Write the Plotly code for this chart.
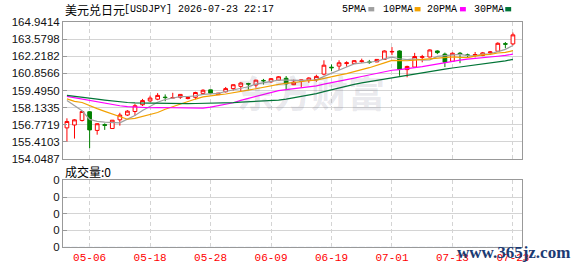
import plotly.graph_objects as go
import pandas as pd

# ---------------- data ----------------
dates = ["05-01", "05-04", "05-05", "05-06", "05-07", "05-08",
         "05-11", "05-12", "05-13", "05-14", "05-15",
         "05-18", "05-19", "05-20", "05-21", "05-22",
         "05-25", "05-26", "05-27", "05-28", "05-29",
         "06-01", "06-02", "06-03", "06-04", "06-05",
         "06-08", "06-09", "06-10", "06-11", "06-12",
         "06-15", "06-16", "06-17", "06-18", "06-19",
         "06-22", "06-23", "06-24", "06-25", "06-26",
         "06-29", "06-30", "07-01", "07-02", "07-03",
         "07-06", "07-07", "07-08", "07-09", "07-10",
         "07-13", "07-14", "07-15", "07-16", "07-17",
         "07-20", "07-21", "07-22", "07-23"]

open_ = [156.53, 156.76, 157.12, 157.81, 156.33, 156.79, 156.48, 157.17, 157.55, 157.83,
         158.37, 158.67, 158.81, 158.97, 158.90, 158.96, 158.86, 158.96, 159.27, 159.55,
         159.17, 159.40, 159.65, 159.83, 160.05, 159.93, 160.30, 160.19, 160.32, 160.47,
         159.96, 160.24, 160.29, 160.36, 160.80, 161.35, 161.44, 161.64, 161.64, 161.80,
         161.77, 161.77, 161.97, 162.56, 162.64, 161.16, 161.36, 162.13, 162.16, 162.64,
         162.39, 161.82, 162.46, 162.33, 162.28, 162.28, 162.49, 162.62, 163.22, 163.20]
high = [157.29, 157.22, 157.88, 157.85, 156.90, 156.89, 157.16, 157.73, 157.94, 158.44,
        158.83, 159.09, 159.29, 159.19, 159.32, 159.21, 158.98, 159.40, 159.60, 159.57,
        159.31, 159.78, 159.98, 160.16, 160.11, 160.36, 160.42, 160.49, 160.65, 160.65,
        160.36, 160.36, 160.55, 160.75, 161.90, 161.57, 161.90, 161.82, 161.90, 162.03,
        161.93, 161.99, 162.69, 162.95, 162.69, 161.47, 162.49, 162.33, 162.77, 162.69,
        162.51, 162.52, 162.56, 162.43, 162.56, 162.56, 162.64, 163.33, 163.35, 164.10]
low = [155.43, 155.68, 157.04, 154.92, 155.99, 156.37, 156.45, 156.71, 157.48, 157.48,
       158.27, 158.60, 158.73, 158.65, 158.90, 158.83, 158.80, 158.80, 159.21, 159.24,
       159.14, 159.34, 159.50, 159.47, 159.57, 159.73, 159.98, 160.11, 160.29, 159.57,
       159.93, 159.73, 160.11, 160.19, 160.70, 161.05, 161.13, 161.39, 161.62, 161.70,
       161.62, 161.75, 161.95, 162.31, 160.67, 160.55, 161.31, 161.74, 162.13, 162.39,
       161.36, 161.79, 161.67, 162.13, 162.13, 162.23, 162.36, 162.59, 162.85, 163.08]
close = [157.04, 157.17, 157.83, 156.37, 156.86, 156.73, 157.14, 157.55, 157.86, 158.29,
         158.70, 158.90, 159.11, 158.94, 158.94, 159.19, 158.94, 159.34, 159.52, 159.29,
         159.29, 159.65, 159.96, 160.09, 160.01, 160.32, 160.27, 160.44, 160.59, 160.03,
         160.16, 160.34, 160.49, 160.62, 161.51, 161.31, 161.70, 161.70, 161.87, 161.85,
         161.72, 161.97, 162.64, 162.60, 161.18, 161.41, 162.20, 162.18, 162.72, 162.51,
         161.74, 162.46, 162.39, 162.29, 162.36, 162.49, 162.56, 163.25, 163.18, 163.92]
# closes of the 29 sessions before the window (needed for the moving averages)
prior_close = [159.10, 159.35, 159.60, 159.20, 158.95, 159.40, 159.55, 159.30, 159.05, 159.20,
               159.45, 159.10, 158.90, 159.30, 159.50, 159.25, 159.00, 159.35, 159.15, 159.30,
               159.10, 158.70, 158.95, 159.20, 158.85, 159.32, 159.74, 159.80, 157.60]
volume = [0] * 60

y_ticks = ["154.0487", "155.4103", "156.7719", "158.1335", "159.4950",
           "160.8566", "162.2182", "163.5798", "164.9414"]
x_ticks = ["05-06", "05-18", "05-28", "06-09", "06-19", "07-01", "07-13", "07-23"]
vol_ticks = ["0", "0", "0", "0", "0"]

ma_periods = [5, 10, 20, 30]
ma_names = ["5PMA", "10PMA", "20PMA", "30PMA"]
ma_colors = ["#a0a0a0", "#f2a100", "#ff00ff", "#007436"]

# ---------------- layout helpers (pixels -> paper) ----------------
W, H = 578, 276
L, R, T, B = 56, 522, 22, 255
def px(x):
    return (x - L) / (R - L)
def py(y):
    return (B - y) / (B - T)

fig = go.Figure()

series = pd.Series(prior_close + close)
n_prior = len(prior_close)
for p, name, col in zip(ma_periods, ma_names, ma_colors):
    ma = series.rolling(p).mean().iloc[n_prior:].tolist()
    fig.add_trace(go.Scatter(x=dates, y=ma, mode="lines", name=name,
                             line=dict(color=col, width=1.2),
                             xaxis="x", yaxis="y", hoverinfo="skip"))

fig.add_trace(go.Candlestick(
    x=dates, open=open_, high=high, low=low, close=close,
    increasing=dict(line=dict(color="#ff0000", width=1), fillcolor="#ffffff"),
    decreasing=dict(line=dict(color="#008000", width=1), fillcolor="#008000"),
    whiskerwidth=0, xaxis="x", yaxis="y", name="USDJPY"))

fig.add_trace(go.Bar(x=dates, y=volume, xaxis="x2", yaxis="y2",
                     marker_color="#ff0000", name="成交量"))

grid_c = "#d4d4d4"
frame_c = "#999999"
axis_font = dict(family="Liberation Sans, Arial", size=11.5, color="#111111")

fig.update_layout(
    width=W, height=H,
    margin=dict(l=L, r=W - R, t=T, b=H - B, pad=0),
    paper_bgcolor="white", plot_bgcolor="white",
    showlegend=False,
    xaxis=dict(type="category", domain=[0, 1], anchor="y",
               range=[-0.52, 60.2], categoryorder="array", categoryarray=dates,
               tickvals=x_ticks, showticklabels=False, ticks="",
               showgrid=True, gridcolor=grid_c, griddash="4px,3px", gridwidth=1,
               showline=True, mirror=True, linecolor=frame_c, linewidth=1,
               rangeslider=dict(visible=False), zeroline=False),
    yaxis=dict(domain=[py(164), 1], anchor="x",
               range=[float(y_ticks[0]), float(y_ticks[-1])],
               tickvals=[float(t) for t in y_ticks], ticktext=y_ticks,
               ticks="inside", ticklen=4, tickcolor=frame_c,
               tickfont=axis_font, showgrid=True, gridcolor=grid_c,
               showline=True, mirror=True, linecolor=frame_c, linewidth=1,
               zeroline=False),
    xaxis2=dict(type="category", domain=[0, 1], anchor="y2", matches="x",
                range=[-0.52, 60.2], categoryorder="array", categoryarray=dates,
                tickvals=x_ticks, ticktext=x_ticks, ticks="",
                tickfont=dict(family="Liberation Mono, monospace", size=11, color="#ff0000"),
                showgrid=True, gridcolor=grid_c, griddash="4px,3px", gridwidth=1,
                showline=True, mirror=True, linecolor=frame_c, linewidth=1,
                rangeslider=dict(visible=False), zeroline=False),
    yaxis2=dict(domain=[0, py(186)], anchor="x2", range=[0, 4],
                tickvals=[0, 1, 2, 3, 4], ticktext=vol_ticks,
                ticks="inside", ticklen=4, tickcolor=frame_c,
                tickfont=axis_font, showgrid=True, gridcolor=grid_c,
                showline=True, mirror=True, linecolor=frame_c, linewidth=1,
                zeroline=False),
)

ann = []
# watermark
ann.append(dict(text="东方财富", x=px(308), y=py(94), xref="paper", yref="paper",
                showarrow=False, xanchor="center", yanchor="middle",
                font=dict(family="Noto Sans CJK SC", size=37, color="rgba(90,90,120,0.15)",
                          weight="bold")))
# title
ann.append(dict(text="美元兑日元", x=px(56), y=py(9), xref="paper", yref="paper",
                showarrow=False, xanchor="left", yanchor="middle",
                font=dict(family="Noto Sans CJK SC", size=12, color="#000000")))
ann.append(dict(text="[USDJPY] 2026-07-23 22:17", x=px(116), y=py(9), xref="paper", yref="paper",
                showarrow=False, xanchor="left", yanchor="middle",
                font=dict(family="Liberation Mono, monospace", size=10, color="#000000")))
# legend
leg_text_x = [337, 379, 424, 471]
leg_box_x = [366, 413, 459, 505]
shapes = []
for name, col, tx, bx in zip(ma_names, ma_colors, leg_text_x, leg_box_x):
    ann.append(dict(text=name, x=px(tx), y=py(9), xref="paper", yref="paper",
                    showarrow=False, xanchor="left", yanchor="middle",
                    font=dict(family="Liberation Mono, monospace", size=10, color="#000000")))
    shapes.append(dict(type="rect", xref="paper", yref="paper",
                       x0=px(bx), x1=px(bx + 6), y0=py(11), y1=py(6.5),
                       fillcolor=col, line=dict(width=0)))
# volume title
ann.append(dict(text="成交量:0", x=px(56), y=py(177), xref="paper", yref="paper",
                showarrow=False, xanchor="left", yanchor="middle",
                font=dict(family="Noto Sans CJK SC", size=12, color="#000000")))
# site watermark
ann.append(dict(text="<b>www.365jz.com</b>", x=px(454), y=py(261), xref="paper", yref="paper",
                showarrow=False, xanchor="left", yanchor="middle",
                font=dict(family="Liberation Serif, serif", size=17, color="#1c3b73")))

fig.update_layout(annotations=ann, shapes=shapes)

fig.write_html("out.html")
